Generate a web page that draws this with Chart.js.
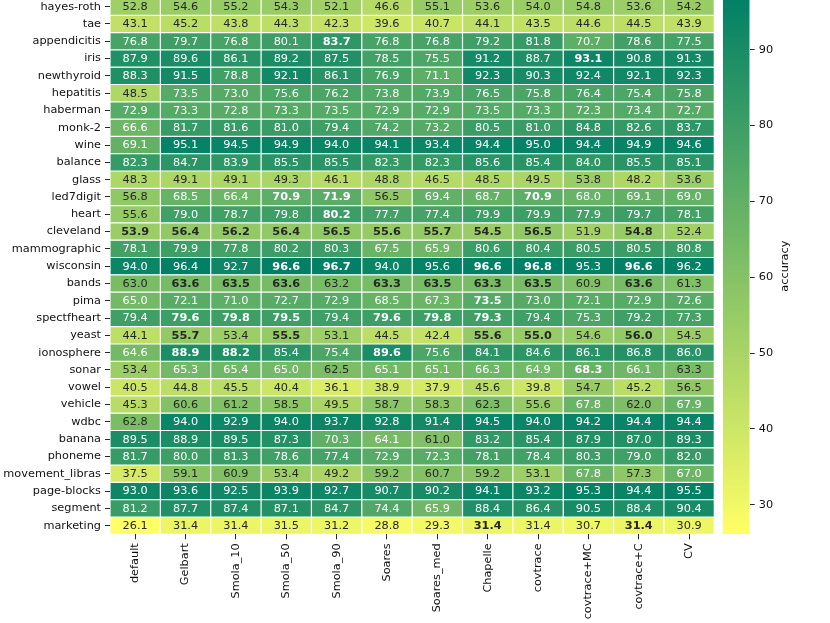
<!DOCTYPE html>
<html>
<head>
<meta charset="utf-8">
<script src="https://cdn.jsdelivr.net/npm/chart.js@4.4.0/dist/chart.umd.min.js"></script>
<style>
  body { margin: 0; background: #fff; overflow: hidden; width: 830px; height: 623px; position: relative; }
  #heat { position: absolute; left: 0; top: -2px; }
  #cbar { position: absolute; left: 722.5px; top: -2px; }
</style>
</head>
<body>
<canvas id="heat" width="830" height="625"></canvas>
<canvas id="cbar" width="107" height="625"></canvas>
<script>
const rows = ['hayes-roth', 'tae', 'appendicitis', 'iris', 'newthyroid', 'hepatitis', 'haberman', 'monk-2',
  'wine', 'balance', 'glass', 'led7digit', 'heart', 'cleveland', 'mammographic', 'wisconsin', 'bands', 'pima',
  'spectfheart', 'yeast', 'ionosphere', 'sonar', 'vowel', 'vehicle', 'wdbc', 'banana', 'phoneme',
  'movement_libras', 'page-blocks', 'segment', 'marketing'];
const cols = ['default', 'Gelbart', 'Smola_10', 'Smola_50', 'Smola_90', 'Soares', 'Soares_med',
  'Chapelle', 'covtrace', 'covtrace+MC', 'covtrace+C', 'CV'];

// one row per data set, one entry per method
const accuracy = [
  [52.8, 54.6, 55.2, 54.3, 52.1, 46.6, 55.1, 53.6, 54.0, 54.8, 53.6, 54.2],
  [43.1, 45.2, 43.8, 44.3, 42.3, 39.6, 40.7, 44.1, 43.5, 44.6, 44.5, 43.9],
  [76.8, 79.7, 76.8, 80.1, 83.7, 76.8, 76.8, 79.2, 81.8, 70.7, 78.6, 77.5],
  [87.9, 89.6, 86.1, 89.2, 87.5, 78.5, 75.5, 91.2, 88.7, 93.1, 90.8, 91.3],
  [88.3, 91.5, 78.8, 92.1, 86.1, 76.9, 71.1, 92.3, 90.3, 92.4, 92.1, 92.3],
  [48.5, 73.5, 73.0, 75.6, 76.2, 73.8, 73.9, 76.5, 75.8, 76.4, 75.4, 75.8],
  [72.9, 73.3, 72.8, 73.3, 73.5, 72.9, 72.9, 73.5, 73.3, 72.3, 73.4, 72.7],
  [66.6, 81.7, 81.6, 81.0, 79.4, 74.2, 73.2, 80.5, 81.0, 84.8, 82.6, 83.7],
  [69.1, 95.1, 94.5, 94.9, 94.0, 94.1, 93.4, 94.4, 95.0, 94.4, 94.9, 94.6],
  [82.3, 84.7, 83.9, 85.5, 85.5, 82.3, 82.3, 85.6, 85.4, 84.0, 85.5, 85.1],
  [48.3, 49.1, 49.1, 49.3, 46.1, 48.8, 46.5, 48.5, 49.5, 53.8, 48.2, 53.6],
  [56.8, 68.5, 66.4, 70.9, 71.9, 56.5, 69.4, 68.7, 70.9, 68.0, 69.1, 69.0],
  [55.6, 79.0, 78.7, 79.8, 80.2, 77.7, 77.4, 79.9, 79.9, 77.9, 79.7, 78.1],
  [53.9, 56.4, 56.2, 56.4, 56.5, 55.6, 55.7, 54.5, 56.5, 51.9, 54.8, 52.4],
  [78.1, 79.9, 77.8, 80.2, 80.3, 67.5, 65.9, 80.6, 80.4, 80.5, 80.5, 80.8],
  [94.0, 96.4, 92.7, 96.6, 96.7, 94.0, 95.6, 96.6, 96.8, 95.3, 96.6, 96.2],
  [63.0, 63.6, 63.5, 63.6, 63.2, 63.3, 63.5, 63.3, 63.5, 60.9, 63.6, 61.3],
  [65.0, 72.1, 71.0, 72.7, 72.9, 68.5, 67.3, 73.5, 73.0, 72.1, 72.9, 72.6],
  [79.4, 79.6, 79.8, 79.5, 79.4, 79.6, 79.8, 79.3, 79.4, 75.3, 79.2, 77.3],
  [44.1, 55.7, 53.4, 55.5, 53.1, 44.5, 42.4, 55.6, 55.0, 54.6, 56.0, 54.5],
  [64.6, 88.9, 88.2, 85.4, 75.4, 89.6, 75.6, 84.1, 84.6, 86.1, 86.8, 86.0],
  [53.4, 65.3, 65.4, 65.0, 62.5, 65.1, 65.1, 66.3, 64.9, 68.3, 66.1, 63.3],
  [40.5, 44.8, 45.5, 40.4, 36.1, 38.9, 37.9, 45.6, 39.8, 54.7, 45.2, 56.5],
  [45.3, 60.6, 61.2, 58.5, 49.5, 58.7, 58.3, 62.3, 55.6, 67.8, 62.0, 67.9],
  [62.8, 94.0, 92.9, 94.0, 93.7, 92.8, 91.4, 94.5, 94.0, 94.2, 94.4, 94.4],
  [89.5, 88.9, 89.5, 87.3, 70.3, 64.1, 61.0, 83.2, 85.4, 87.9, 87.0, 89.3],
  [81.7, 80.0, 81.3, 78.6, 77.4, 72.9, 72.3, 78.1, 78.4, 80.3, 79.0, 82.0],
  [37.5, 59.1, 60.9, 53.4, 49.2, 59.2, 60.7, 59.2, 53.1, 67.8, 57.3, 67.0],
  [93.0, 93.6, 92.5, 93.9, 92.7, 90.7, 90.2, 94.1, 93.2, 95.3, 94.4, 95.5],
  [81.2, 87.7, 87.4, 87.1, 84.7, 74.4, 65.9, 88.4, 86.4, 90.5, 88.4, 90.4],
  [26.1, 31.4, 31.4, 31.5, 31.2, 28.8, 29.3, 31.4, 31.4, 30.7, 31.4, 30.9]
];

// column indices printed in bold, per row
const boldCols = [
  [], [], [4], [9], [], [], [], [], [], [], [],
  [3, 4, 8], [4], [0, 1, 2, 3, 4, 5, 6, 7, 8, 10], [], [3, 4, 7, 8, 10],
  [1, 2, 3, 5, 6, 7, 8, 10], [7], [1, 2, 3, 5, 6, 7], [1, 3, 7, 8, 10],
  [1, 2, 5], [9], [], [], [], [], [], [], [], [], [7, 10]
];

const all = accuracy.flat();
const vmin = Math.min(...all);
const vmax = Math.max(...all);

// matplotlib "summer_r"
function summerR(v) {
  const x = 1 - (v - vmin) / (vmax - vmin);
  return [x, 0.5 + x / 2, 0.4];
}
function rgbStr(c) {
  return 'rgb(' + Math.round(c[0] * 255) + ',' + Math.round(c[1] * 255) + ',' + Math.round(c[2] * 255) + ')';
}
function textColor(v, bold) {
  const lin = summerR(v).map(function (c) {
    return c <= 0.03928 ? c / 12.92 : Math.pow((c + 0.055) / 1.055, 2.4);
  });
  const lum = 0.2126 * lin[0] + 0.7152 * lin[1] + 0.0722 * lin[2];
  if (bold && v < 64) return '#262626';
  return lum > 0.408 ? '#262626' : '#ffffff';
}

const FONT = 'DejaVu Sans';
const FS = 11.3;

// drop the half-label padding chart.js adds at the axis ends
function noPad(s) {
  s.paddingTop = 0; s.paddingBottom = 0; s.paddingLeft = 0; s.paddingRight = 0;
}

const cellLabels = {
  id: 'cellLabels',
  afterDatasetsDraw(chart) {
    const ctx = chart.ctx;
    ctx.save();
    ctx.textAlign = 'center';
    ctx.textBaseline = 'middle';
    chart.data.datasets.forEach(function (ds, j) {
      chart.getDatasetMeta(j).data.forEach(function (bar, i) {
        const v = accuracy[i][j];
        const bold = boldCols[i].indexOf(j) >= 0;
        const p = bar.getCenterPoint();
        ctx.font = (bold ? 'bold ' : '') + FS + 'px "' + FONT + '"';
        ctx.fillStyle = textColor(v, bold);
        ctx.fillText(v.toFixed(1), p.x, p.y + 0.5);
      });
    });
    ctx.restore();
  }
};

new Chart(document.getElementById('heat'), {
  type: 'bar',
  data: {
    labels: rows,
    datasets: cols.map(function (c, j) {
      return {
        label: c,
        data: rows.map(function () { return [j, j + 1]; }),
        backgroundColor: rows.map(function (r, i) { return rgbStr(summerR(accuracy[i][j])); }),
        borderColor: '#ffffff',
        borderWidth: 0.6,
        borderSkipped: false,
        inflateAmount: 0,
        barPercentage: 1,
        categoryPercentage: 1,
        grouped: false
      };
    })
  },
  options: {
    indexAxis: 'y',
    responsive: false,
    animation: false,
    layout: { padding: { left: 0, right: 115.7, top: 0, bottom: 0 } },
    plugins: { legend: { display: false }, tooltip: { enabled: false } },
    scales: {
      y: {
        type: 'category',
        offset: true,
        afterFit: function (s) { s.width = 110; noPad(s); },
        grid: { offset: false, drawOnChartArea: false, tickLength: 5, color: '#262626' },
        border: { display: false },
        ticks: { color: '#111', font: { family: FONT, size: FS }, padding: 4, autoSkip: false }
      },
      x: {
        type: 'linear',
        min: 0,
        max: cols.length,
        afterFit: function (s) { s.height = 88.7; noPad(s); },
        afterBuildTicks: function (s) {
          s.ticks = cols.map(function (c, j) { return { value: j + 0.5 }; });
        },
        grid: { drawOnChartArea: false, tickLength: 5, color: '#262626' },
        border: { display: false },
        ticks: {
          color: '#111', font: { family: FONT, size: FS }, padding: 4,
          minRotation: 90, maxRotation: 90, autoSkip: false,
          callback: function (v) { return cols[Math.floor(v)]; }
        }
      }
    }
  },
  plugins: [cellLabels]
});

const barTitle = {
  id: 'barTitle',
  afterDraw(chart) {
    const ctx = chart.ctx;
    const ca = chart.chartArea;
    ctx.save();
    ctx.translate(62.5, (ca.top + ca.bottom) / 2);
    ctx.rotate(-Math.PI / 2);
    ctx.textAlign = 'center';
    ctx.textBaseline = 'middle';
    ctx.font = FS + 'px "' + FONT + '"';
    ctx.fillStyle = '#111';
    ctx.fillText('accuracy', 0, 0);
    ctx.restore();
  }
};

const barTicks = [30, 40, 50, 60, 70, 80, 90];

new Chart(document.getElementById('cbar'), {
  type: 'bar',
  data: {
    labels: [''],
    datasets: [{
      data: [[vmin, vmax]],
      backgroundColor: function (c) {
        const ca = c.chart.chartArea;
        if (!ca) return rgbStr(summerR(vmin));
        const g = c.chart.ctx.createLinearGradient(0, ca.bottom, 0, ca.top);
        g.addColorStop(0, rgbStr(summerR(vmin)));
        g.addColorStop(1, rgbStr(summerR(vmax)));
        return g;
      },
      borderWidth: 0,
      inflateAmount: 0,
      barPercentage: 1,
      categoryPercentage: 1
    }]
  },
  options: {
    responsive: false,
    animation: false,
    layout: { padding: { left: 0, right: 0, top: 0, bottom: 88.7 } },
    plugins: { legend: { display: false }, tooltip: { enabled: false } },
    scales: {
      x: { display: false },
      y: {
        position: 'right',
        min: vmin,
        max: vmax,
        afterFit: function (s) { s.width = 80.3; noPad(s); },
        afterBuildTicks: function (s) {
          s.ticks = barTicks.map(function (v) { return { value: v }; });
        },
        grid: { drawOnChartArea: false, tickLength: 5, color: '#262626' },
        border: { display: false },
        ticks: { color: '#111', font: { family: FONT, size: FS }, padding: 4 }
      }
    }
  },
  plugins: [barTitle]
});
</script>
</body>
</html>
